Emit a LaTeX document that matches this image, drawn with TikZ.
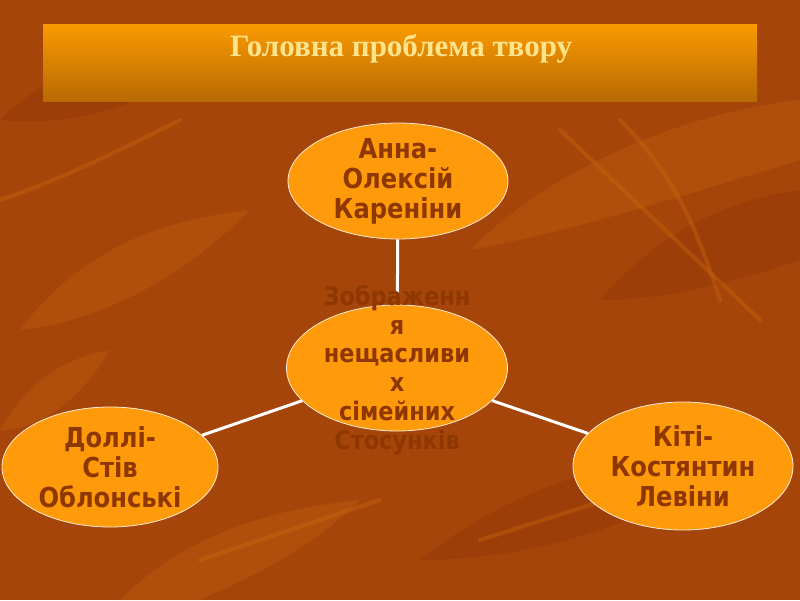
\documentclass[tikz,border=0pt]{standalone}
\usepackage{fontspec}
\setmainfont{Liberation Serif}
\newfontfamily\ovalfont[FakeStretch=0.88]{DejaVu Sans Bold}
\usetikzlibrary{shapes.geometric}
\definecolor{bgbrown}{HTML}{A6450A}
\definecolor{leaflight}{HTML}{C9670F}
\definecolor{leafdark}{HTML}{8C3204}
\definecolor{ovalfill}{HTML}{FF9A0A}
\definecolor{ovaltext}{HTML}{8E3700}
\definecolor{titletext}{HTML}{FFE48C}
\definecolor{bartop}{HTML}{FB9A00}
\definecolor{barbot}{HTML}{B76A04}
\tikzset{
  oval/.style={ellipse, fill=ovalfill, draw=white!85!orange, line width=0.8pt, inner sep=0pt},
  ovallabel/.style={text=ovaltext, align=center, font=\ovalfont\fontsize{27.5}{30}\selectfont, inner sep=0pt},
  link/.style={draw=white, line width=3pt},
  leafA/.style={fill=leaflight, opacity=0.3},
  leafB/.style={fill=leafdark, opacity=0.35},
  vein/.style={draw=leaflight, line width=4pt, opacity=0.4, line cap=round}
}
\begin{document}
\begin{tikzpicture}[x=1pt,y=-1pt]
\useasboundingbox (0,0) rectangle (800,600);
\fill[bgbrown] (0,0) rectangle (800,600);
% background leaves
\fill[leafA] (470,250) .. controls (560,160) and (700,110) .. (800,100) -- (800,160) .. controls (700,190) and (580,230) .. cycle;
\fill[leafB] (0,120) .. controls (60,60) and (150,40) .. (260,30) .. controls (180,90) and (90,130) .. cycle;
\fill[leafA] (20,330) .. controls (80,250) and (160,220) .. (250,210) .. controls (190,270) and (110,320) .. cycle;
\fill[leafB] (420,560) .. controls (520,480) and (640,450) .. (780,440) .. controls (660,520) and (540,560) .. cycle;
\fill[leafA] (120,600) .. controls (180,540) and (260,510) .. (360,500) .. controls (300,560) and (220,590) .. (200,600) -- cycle;
\fill[leafB] (600,300) .. controls (660,230) and (730,200) .. (800,190) -- (800,260) .. controls (740,280) and (670,300) .. cycle;
\fill[leafA] (0,430) .. controls (30,380) and (60,360) .. (110,350) .. controls (80,400) and (40,430) .. cycle;
\draw[vein] (560,130) -- (760,320);
\draw[vein] (620,120) .. controls (680,180) and (700,240) .. (720,300);
\draw[vein] (0,200) .. controls (60,180) and (120,150) .. (180,120);
\draw[vein] (200,560) .. controls (260,540) and (320,520) .. (380,500);
\draw[vein] (480,540) -- (700,470);
% title bar
\shade[top color=bartop, bottom color=barbot] (43,24) rectangle (757,101);
\node[text=titletext, font=\bfseries\fontsize{31}{34}\selectfont, inner sep=0pt] (title) at (401,49) {Головна проблема твору};
% ovals
\node[oval, minimum width=220pt, minimum height=116pt] (anna) at (398,181) {};
\node[oval, minimum width=221pt, minimum height=126pt] (core) at (397,368) {};
\node[oval, minimum width=216pt, minimum height=120pt] (dolly) at (110,467) {};
\node[oval, minimum width=220pt, minimum height=128pt] (kiti) at (683,466) {};
% links
\draw[link] (anna) -- (core);
\draw[link] (dolly) -- (core);
\draw[link] (core) -- (kiti);
\fill[ovalfill] (core.center) ellipse (109.5pt and 62pt);
% labels
\node[ovallabel] (annat) at (anna.center) {Анна-\\Олексій\\Кареніни};
\node[ovallabel] (dollyt) at (dolly.center) {Доллі-\\Стів\\Облонські};
\node[ovallabel] (kitit) at (kiti.center) {Кіті-\\Костянтин\\Левіни};
\node[ovallabel, font=\ovalfont\fontsize{25.5}{28.8}\selectfont] (coret) at (397,370) {Зображенн\\я\\нещасливи\\х\\сімейних\\Стосунків};
\end{tikzpicture}
\end{document}
